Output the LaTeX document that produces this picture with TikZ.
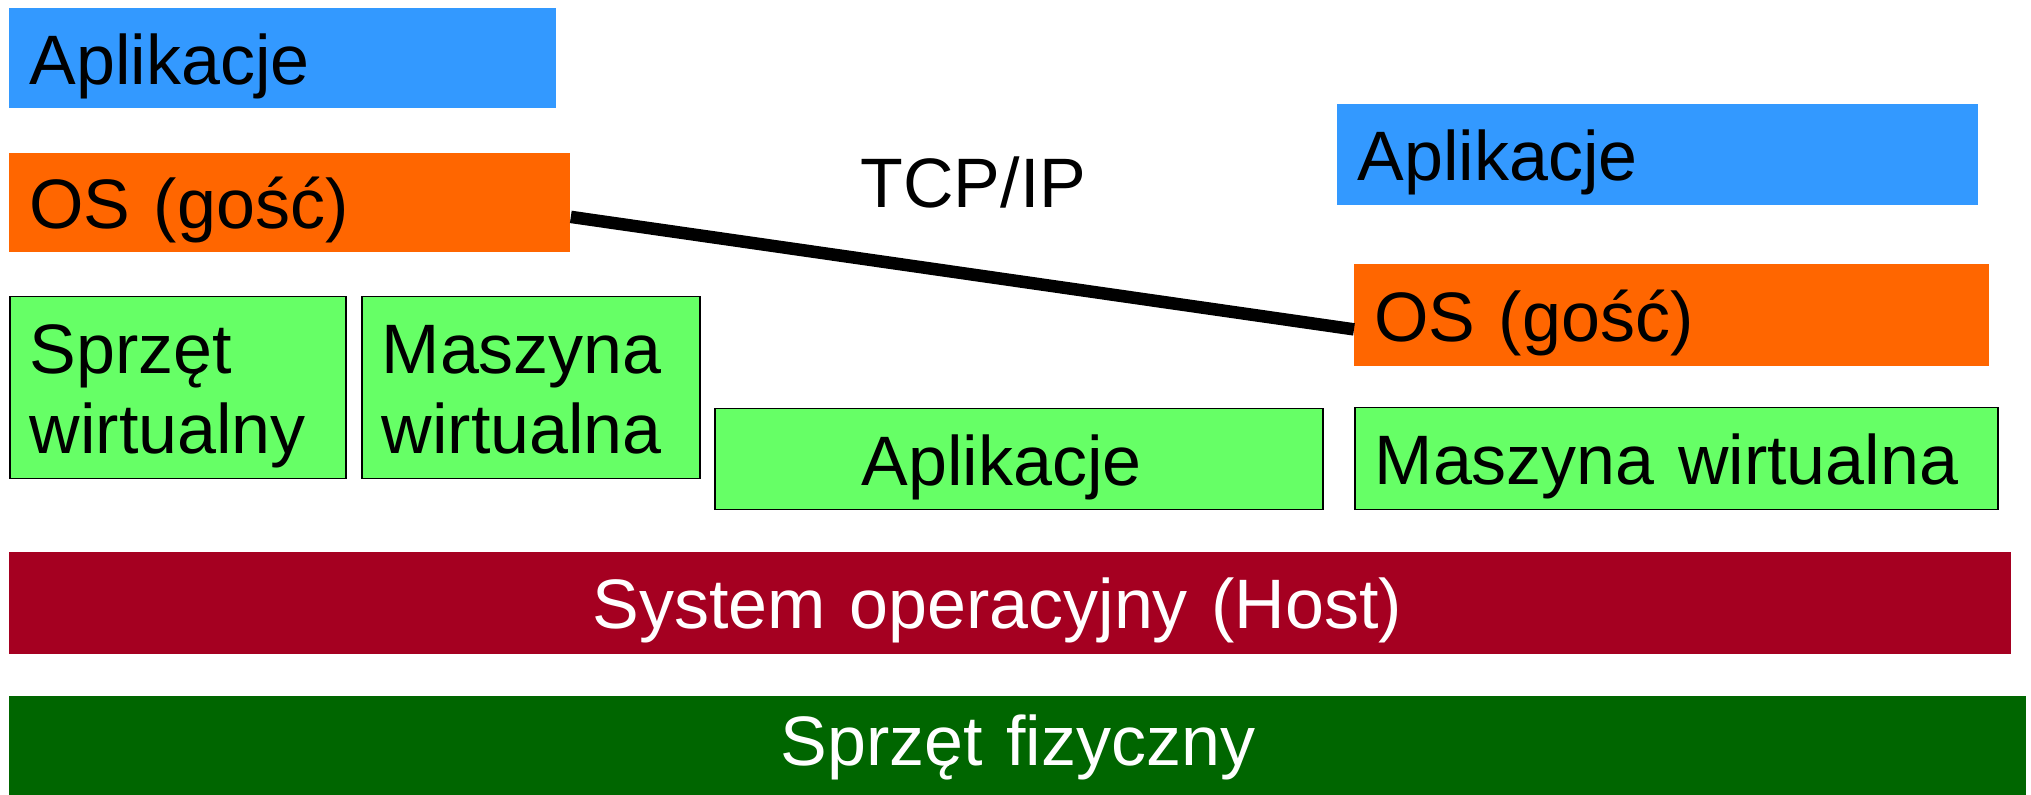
\documentclass[tikz,border=0pt]{standalone}
\usepackage{fontspec}
\setmainfont{Liberation Sans}

\definecolor{appblue}{HTML}{3399FF}
\definecolor{osorange}{HTML}{FF6600}
\definecolor{vmgreen}{HTML}{66FF66}
\definecolor{hostred}{HTML}{A50021}
\definecolor{hwgreen}{HTML}{006600}

\tikzset{
  layer/.style={rectangle, anchor=north west, inner xsep=10pt, inner ysep=0pt,
    align=left, minimum height=50pt, text height=30pt, text depth=4pt,
    font=\fontsize{35}{40}\selectfont},
  boxw/.style={minimum width=#1, text width=#1-20pt},
  tall/.style={minimum height=#1},
  vmbox/.style={layer, fill=vmgreen, draw=black, line width=0.75pt},
  twolines/.style={text height=28pt, text depth=42pt},
  hostbar/.style={layer, fill=hostred, text=white, align=center, text depth=5pt},
  link/.style={line width=6.25pt},
  netlabel/.style={midway, above=29.5pt, xshift=5.5pt, inner sep=0pt,
    text depth=0pt, font=\fontsize{35}{40}\selectfont},
}

\begin{document}
\begin{tikzpicture}[x=0.5pt, y=0.5pt]
  \useasboundingbox (0,0) rectangle (2031,795);

  % left: guest system on emulated hardware
  \node[layer, fill=appblue, boxw=273.5pt] (appl) at (9,787) {Aplikacje};
  \node[layer, fill=osorange, boxw=280.5pt, tall=49.5pt] (osl) at (9,642) {OS (gość)};
  \node[vmbox, twolines, boxw=168pt, tall=91pt] (vhw) at (9,499) {Sprzęt\\wirtualny};
  \node[vmbox, twolines, boxw=169pt, tall=91pt] (vml) at (361,499) {Maszyna\\wirtualna};

  % middle: plain application on the host
  \node[vmbox, boxw=304pt, tall=50.5pt] (appm) at (714,387) {\hspace*{63.5pt}Aplikacje};

  % right: guest system on a virtual machine
  \node[layer, fill=appblue, boxw=320.5pt, tall=50.5pt] (appr) at (1337,691) {Aplikacje};
  \node[layer, fill=osorange, boxw=317.5pt, tall=51pt] (osr) at (1354,531) {OS (gość)};
  \node[vmbox, boxw=321.5pt, tall=51pt] (vmr) at (1354,388) {Maszyna wirtualna};

  % host layers
  \node[hostbar, boxw=1001pt, tall=51pt] (host) at (9,243) {System operacyjny (Host)\hspace*{13pt}};
  \node[hostbar, fill=hwgreen, boxw=1008.5pt, tall=49.5pt, text depth=10.5pt] (hw) at (9,99) {Sprzęt fizyczny};

  % network link between the guests
  \draw[link] ([yshift=-7pt]osl.east) -- node[netlabel] (tcpip) {TCP/IP} ([yshift=-7pt]osr.west);
\end{tikzpicture}
\end{document}
